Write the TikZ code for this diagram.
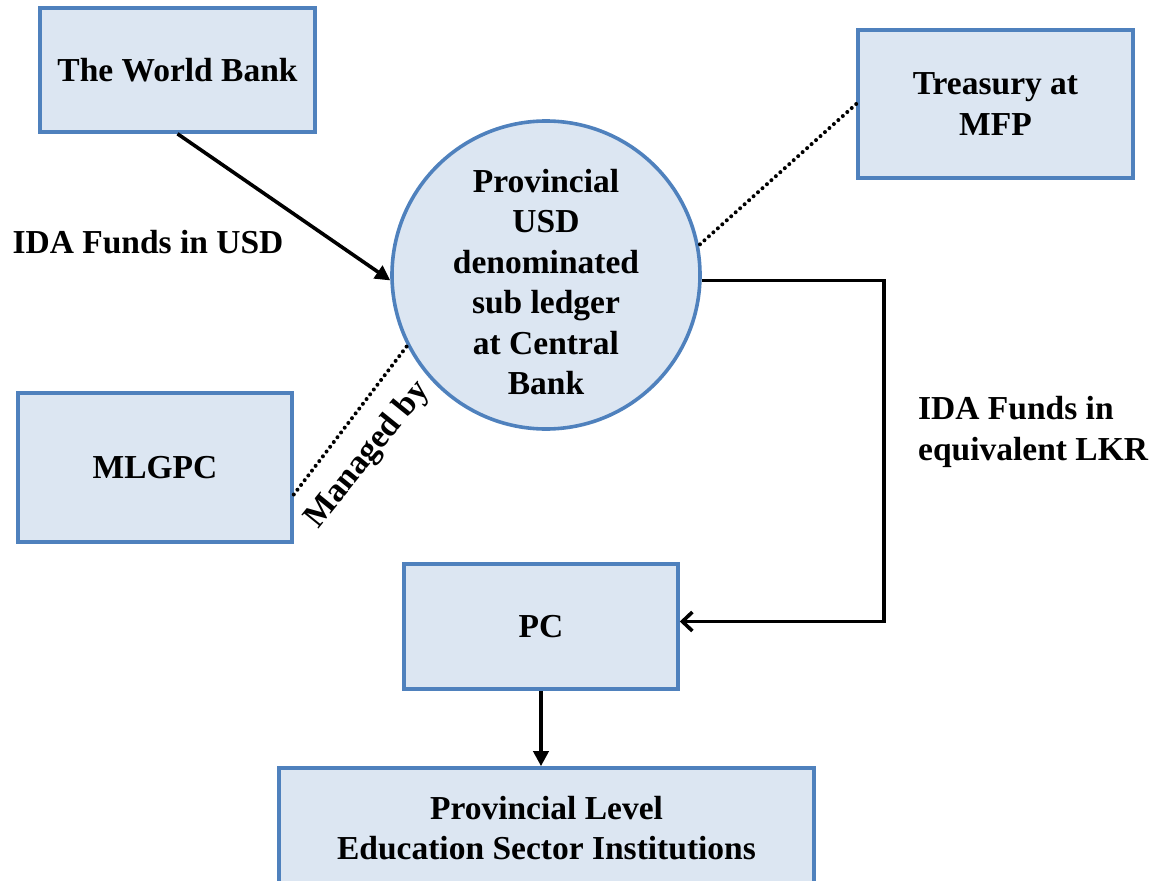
\documentclass[tikz,border=0pt]{standalone}
\usepackage{fontspec}
\setmainfont{Liberation Serif}
\usetikzlibrary{arrows.meta,calc}
\definecolor{boxfill}{HTML}{DCE6F2}
\definecolor{boxline}{HTML}{4F81BD}
\tikzset{
  box/.style={draw=boxline, fill=boxfill, line width=3.6pt, rectangle, inner sep=0pt, align=center,
    font=\fontsize{33.5}{40.4}\selectfont\bfseries},
  circ/.style={draw=boxline, fill=boxfill, line width=3.6pt, circle, inner sep=0pt, minimum size=308pt},
  lbl/.style={inner sep=0pt, font=\fontsize{33.5}{40.4}\selectfont\bfseries},
  arr/.style={line width=3.6pt, -{Triangle[length=15pt,width=15pt]}},
  arrb/.style={line width=3.6pt, -{Straight Barb[length=10pt,width=19pt,line width=3.6pt]}},
  dots/.style={line width=4pt, line cap=round, dash pattern=on 0pt off 6pt}
}
\begin{document}
\begin{tikzpicture}[x=1pt,y=-1pt]
\useasboundingbox (0,0) rectangle (1157,881);
\clip (0,0) rectangle (1157,881);
\node[box, minimum width=275pt, minimum height=124pt] (wb) at (177.5,70) {The World Bank};
\node[box, minimum width=275pt, minimum height=148pt] (tr) at (995.5,104) {Treasury at\\MFP};
\node[box, minimum width=274pt, minimum height=149pt] (ml) at (155,467.5) {MLGPC};
\node[box, minimum width=274pt, minimum height=125pt] (pc) at (541,626.5) {PC};
\node[box, minimum width=535pt, minimum height=120pt] (edu) at (546.5,828) {Provincial Level\\Education Sector Institutions};
\node[circ] (c) at (546,275) {};
\node[lbl, align=center] (ct) at (546,282) {Provincial\\USD\\denominated\\sub ledger\\at Central\\Bank};
\node[lbl] (l1) at (148,242) {IDA Funds in USD};
\node[lbl, align=left, anchor=west] (l2) at (918,432) {IDA Funds in\\equivalent LKR};
\node[lbl, rotate=51] (l3) at (368,455) {Managed by};
\draw[arr] (wb.south) -- (c.182);
\draw[dots] (tr.west) -- (c.11);
\coordinate (mlp) at ($(ml.east)+(0,27)$);
\draw[dots] (mlp) -- (c.207);
\coordinate (pcin) at ($(pc.east)+(0,-5)$);
\draw[arrb] (c.358) -- ++(182,0) |- (pcin);
\draw[arr] (pc.south) -- (pc.south |- edu.north);
\end{tikzpicture}
\end{document}
